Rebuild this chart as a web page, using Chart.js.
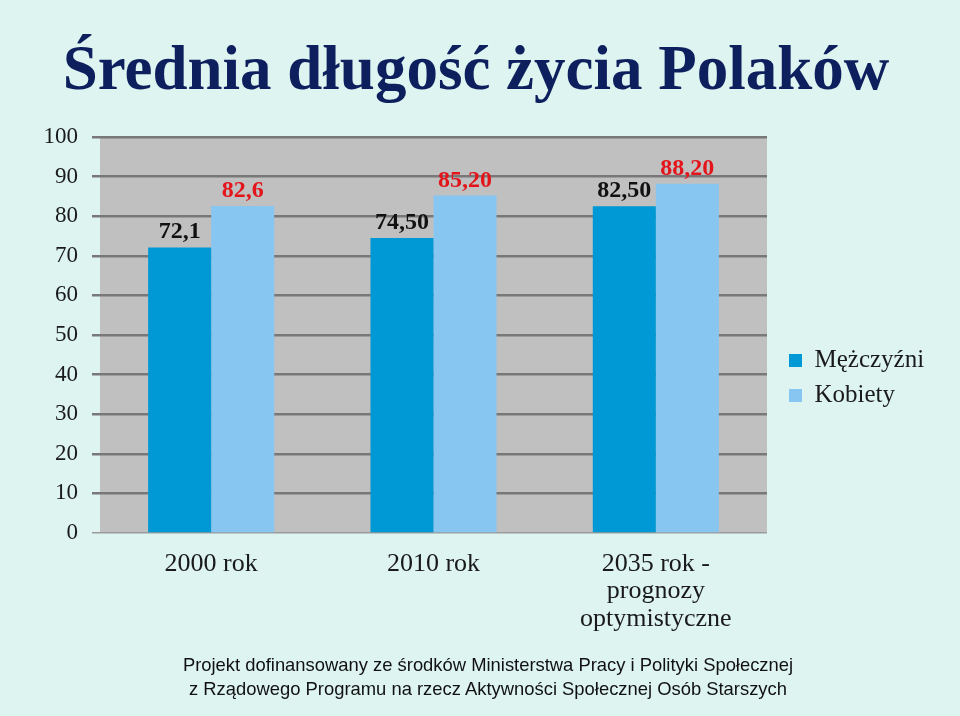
<!DOCTYPE html>
<html lang="pl">
<head>
<meta charset="utf-8">
<script src="https://cdn.jsdelivr.net/npm/chart.js@4/dist/chart.umd.min.js"></script>
<style>
    html, body { margin: 0; padding: 0; background: #ddf4f1; }
    #page { position: relative; width: 960px; height: 716px; overflow: hidden; background: #ddf4f1; }
    #chart { position: absolute; left: 0; top: 0; }
    #title { position: absolute; left: 0; top: 37px; width: 952px; text-align: center; font: bold 63px/1 'Liberation Serif', serif; color: #0d1f5c; white-space: nowrap; }
    #footer { position: absolute; left: 8px; top: 653px; width: 960px; text-align: center; font: 18.4px/24px 'Liberation Sans', Arial, sans-serif; color: #111; white-space: nowrap; }
</style>
</head>
<body>
<div id="page">
    <canvas id="chart" width="960" height="716"></canvas>
    <div id="title">Średnia długość życia Polaków</div>
    <div id="footer">Projekt dofinansowany ze środków Ministerstwa Pracy i Polityki Społecznej<br>z Rządowego Programu na rzecz Aktywności Społecznej Osób Starszych</div>
</div>
<script>
    // dane z wykresu
    const kategorie = ['2000 rok', '2010 rok', ['2035 rok -', 'prognozy', 'optymistyczne']];
    const mezczyzni = [72.1, 74.5, 82.5];
    const kobiety = [82.6, 85.2, 88.2];
    const etykietyMezczyzni = ['72,1', '74,50', '82,50'];
    const etykietyKobiety = ['82,6', '85,20', '88,20'];
    const osY = { min: 0, max: 100, krok: 10 };

    // szare tło obszaru wykresu
    const tloPlugin = {
        id: 'tlo',
        beforeDraw(chart) {
            const a = chart.chartArea;
            const ctx = chart.ctx;
            ctx.save();
            ctx.fillStyle = '#c0c0c0';
            ctx.fillRect(a.left, a.top, a.right - a.left, a.bottom - a.top);
            ctx.restore();
        }
    };

    // etykiety wartości nad słupkami
    const etykietyPlugin = {
        id: 'etykiety',
        afterDatasetsDraw(chart) {
            const ctx = chart.ctx;
            ctx.save();
            ctx.font = 'bold 24px "Liberation Serif", serif';
            ctx.textAlign = 'center';
            ctx.textBaseline = 'alphabetic';
            chart.data.datasets.forEach(function(ds, di) {
                const meta = chart.getDatasetMeta(di);
                meta.data.forEach(function(bar, i) {
                    ctx.fillStyle = ds.etykietaKolor;
                    ctx.fillText(ds.etykiety[i], bar.x, bar.y - 9);
                });
            });
            ctx.restore();
        }
    };

    // przesunięcie legendy (pozycja jak na oryginale)
    const legendaPlugin = {
        id: 'legendaPrzesun',
        afterLayout(chart) {
            const lg = chart.legend;
            if (lg) {
                lg.left += 12;
                lg.right += 60;
                lg.top -= 7;
                lg.bottom -= 7;
            }
        }
    };

    new Chart(document.getElementById('chart'), {
        type: 'bar',
        data: {
            labels: kategorie,
            datasets: [
                {
                    label: 'Mężczyźni',
                    data: mezczyzni,
                    etykiety: etykietyMezczyzni,
                    etykietaKolor: '#111111',
                    backgroundColor: '#0099d5',
                    categoryPercentage: 0.567,
                    barPercentage: 1
                },
                {
                    label: 'Kobiety',
                    data: kobiety,
                    etykiety: etykietyKobiety,
                    etykietaKolor: '#e3151b',
                    backgroundColor: '#86c6f1',
                    categoryPercentage: 0.567,
                    barPercentage: 1
                }
            ]
        },
        options: {
            responsive: false,
            animation: false,
            layout: { padding: { top: 137, bottom: 83, left: 0, right: 53 } },
            plugins: {
                title: { display: false },
                tooltip: { enabled: false },
                legend: {
                    position: 'right',
                    maxWidth: 140,
                    labels: {
                        boxWidth: 13,
                        boxHeight: 13,
                        padding: 10,
                        color: '#1a1a1a',
                        font: { family: 'Liberation Serif', size: 25 }
                    }
                }
            },
            scales: {
                x: {
                    afterFit: function(s) { s.height = 100; },
                    grid: { display: false },
                    border: { display: false },
                    ticks: {
                        color: '#1a1a1a',
                        padding: 9,
                        maxRotation: 0,
                        autoSkip: false,
                        font: { family: 'Liberation Serif', size: 26, lineHeight: 1.06 }
                    }
                },
                y: {
                    min: osY.min,
                    max: osY.max,
                    afterFit: function(s) { s.width = 100; },
                    border: { display: false },
                    grid: {
                        color: function(c) { return c.tick && c.tick.value === 0 ? '#9b9b9b' : '#787878'; },
                        lineWidth: function(c) { return c.tick && c.tick.value === 0 ? 1.5 : 2.5; },
                        tickLength: 8,
                        drawTicks: true
                    },
                    ticks: {
                        stepSize: osY.krok,
                        color: '#1a1a1a',
                        padding: 14,
                        font: { family: 'Liberation Serif', size: 23 }
                    }
                }
            }
        },
        plugins: [tloPlugin, etykietyPlugin, legendaPlugin]
    });
</script>
</body>
</html>
